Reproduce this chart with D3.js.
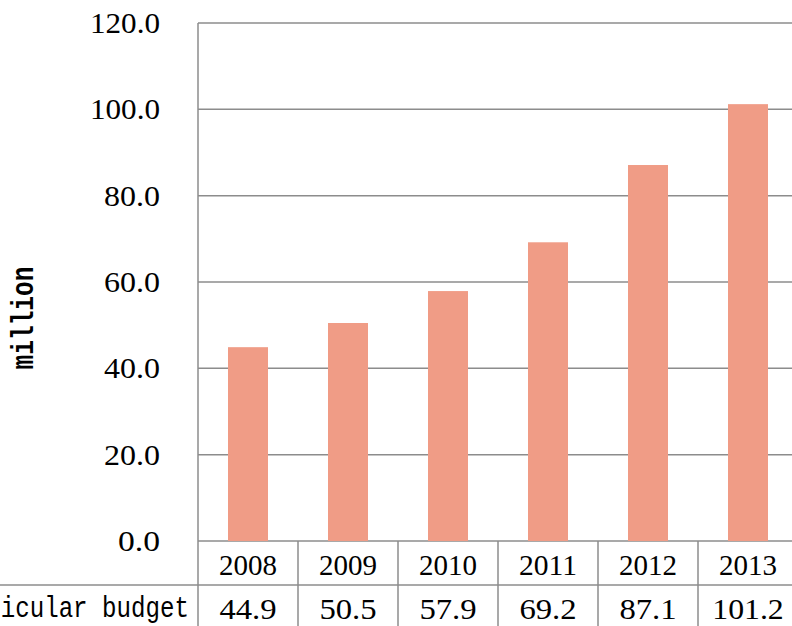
<!DOCTYPE html>
<html>
<head>
<meta charset="utf-8">
<script src="https://cdn.jsdelivr.net/npm/d3@7"></script>
<style>
  html, body { margin: 0; padding: 0; background: #fff; overflow: hidden; }
</style>
</head>
<body>
<script>
// chart data
const years = ['2008', '2009', '2010', '2011', '2012', '2013'];
const budget = [44.9, 50.5, 57.9, 69.2, 87.1, 101.2];
const yTicks = [0, 20, 40, 60, 80, 100, 120];
const rowLabel = 'icular budget';
const yTitle = 'million';

const width = 792, height = 626;
const plotLeft = 198, plotTop = 23, plotBottom = 541, rowH = 44;

const svg = d3.select('body')
    .append('svg')
    .attr('width', width)
    .attr('height', height);

// scales
const x = d3.scaleBand()
    .domain(years)
    .range([plotLeft, plotLeft + 600])
    .paddingInner(0.6)
    .paddingOuter(0.3);

const cell = d3.scaleBand()
    .domain(years)
    .range([plotLeft, plotLeft + 600]);

const y = d3.scaleLinear()
    .domain([0, 120])
    .range([plotBottom, plotTop]);

const grey = '#8c8c8c';
const numFont = '"Liberation Serif", serif';
const txtFont = '"Liberation Mono", monospace';

// gridlines
svg.append('g')
    .selectAll('line')
    .data(yTicks)
    .join('line')
    .attr('x1', plotLeft)
    .attr('x2', width)
    .attr('y1', (d) => y(d))
    .attr('y2', (d) => y(d))
    .attr('stroke', grey)
    .attr('stroke-width', 1.5);

// y axis labels
svg.append('g')
    .selectAll('text')
    .data(yTicks)
    .join('text')
    .attr('x', 160)
    .attr('y', (d) => y(d) + 10)
    .attr('text-anchor', 'end')
    .attr('font-family', numFont)
    .attr('font-size', 30)
    .text((d) => d.toFixed(1))
    .attr('textLength', (d) => d.toFixed(1).length * 14)
    .attr('lengthAdjust', 'spacingAndGlyphs');

// y axis title
svg.append('text')
    .attr('transform', 'translate(33,318) rotate(-90)')
    .attr('text-anchor', 'middle')
    .attr('font-family', txtFont)
    .attr('font-weight', 'bold')
    .attr('font-size', 31)
    .attr('textLength', yTitle.length * 14.7)
    .attr('lengthAdjust', 'spacingAndGlyphs')
    .text(yTitle);

// bars
svg.append('g')
    .selectAll('rect')
    .data(budget)
    .join('rect')
    .attr('x', (d, i) => x(years[i]))
    .attr('y', (d) => y(d))
    .attr('width', x.bandwidth())
    .attr('height', (d) => y(0) - y(d))
    .attr('fill', '#f09c86');

// data table lines
const table = svg.append('g')
    .attr('stroke', grey)
    .attr('stroke-width', 1.5);

table.append('line')
    .attr('x1', plotLeft).attr('x2', plotLeft)
    .attr('y1', plotTop).attr('y2', height);

table.selectAll('line.cell')
    .data(years)
    .join('line')
    .attr('class', 'cell')
    .attr('x1', (d) => cell(d) + cell.bandwidth())
    .attr('x2', (d) => cell(d) + cell.bandwidth())
    .attr('y1', plotBottom)
    .attr('y2', height);

table.append('line')
    .attr('x1', 0).attr('x2', width)
    .attr('y1', plotBottom + rowH).attr('y2', plotBottom + rowH);

// year row
svg.append('g')
    .selectAll('text')
    .data(years)
    .join('text')
    .attr('x', (d) => cell(d) + cell.bandwidth() / 2)
    .attr('y', plotBottom + 34)
    .attr('text-anchor', 'middle')
    .attr('font-family', numFont)
    .attr('font-size', 30)
    .attr('textLength', (d) => d.length * 14.5)
    .attr('lengthAdjust', 'spacingAndGlyphs')
    .text((d) => d);

// value row
svg.append('g')
    .selectAll('text')
    .data(budget)
    .join('text')
    .attr('x', (d, i) => cell(years[i]) + cell.bandwidth() / 2)
    .attr('y', plotBottom + rowH + 34)
    .attr('text-anchor', 'middle')
    .attr('font-family', numFont)
    .attr('font-size', 30)
    .attr('textLength', (d) => d.toFixed(1).length * 14.3)
    .attr('lengthAdjust', 'spacingAndGlyphs')
    .text((d) => d.toFixed(1));

// row label, squeezed horizontally to mimic a half-width font
svg.append('text')
    .attr('transform', `translate(189,${plotBottom + rowH + 32}) scale(0.805,1)`)
    .attr('text-anchor', 'end')
    .attr('font-family', txtFont)
    .attr('font-size', 30)
    .text(rowLabel);
</script>
</body>
</html>
